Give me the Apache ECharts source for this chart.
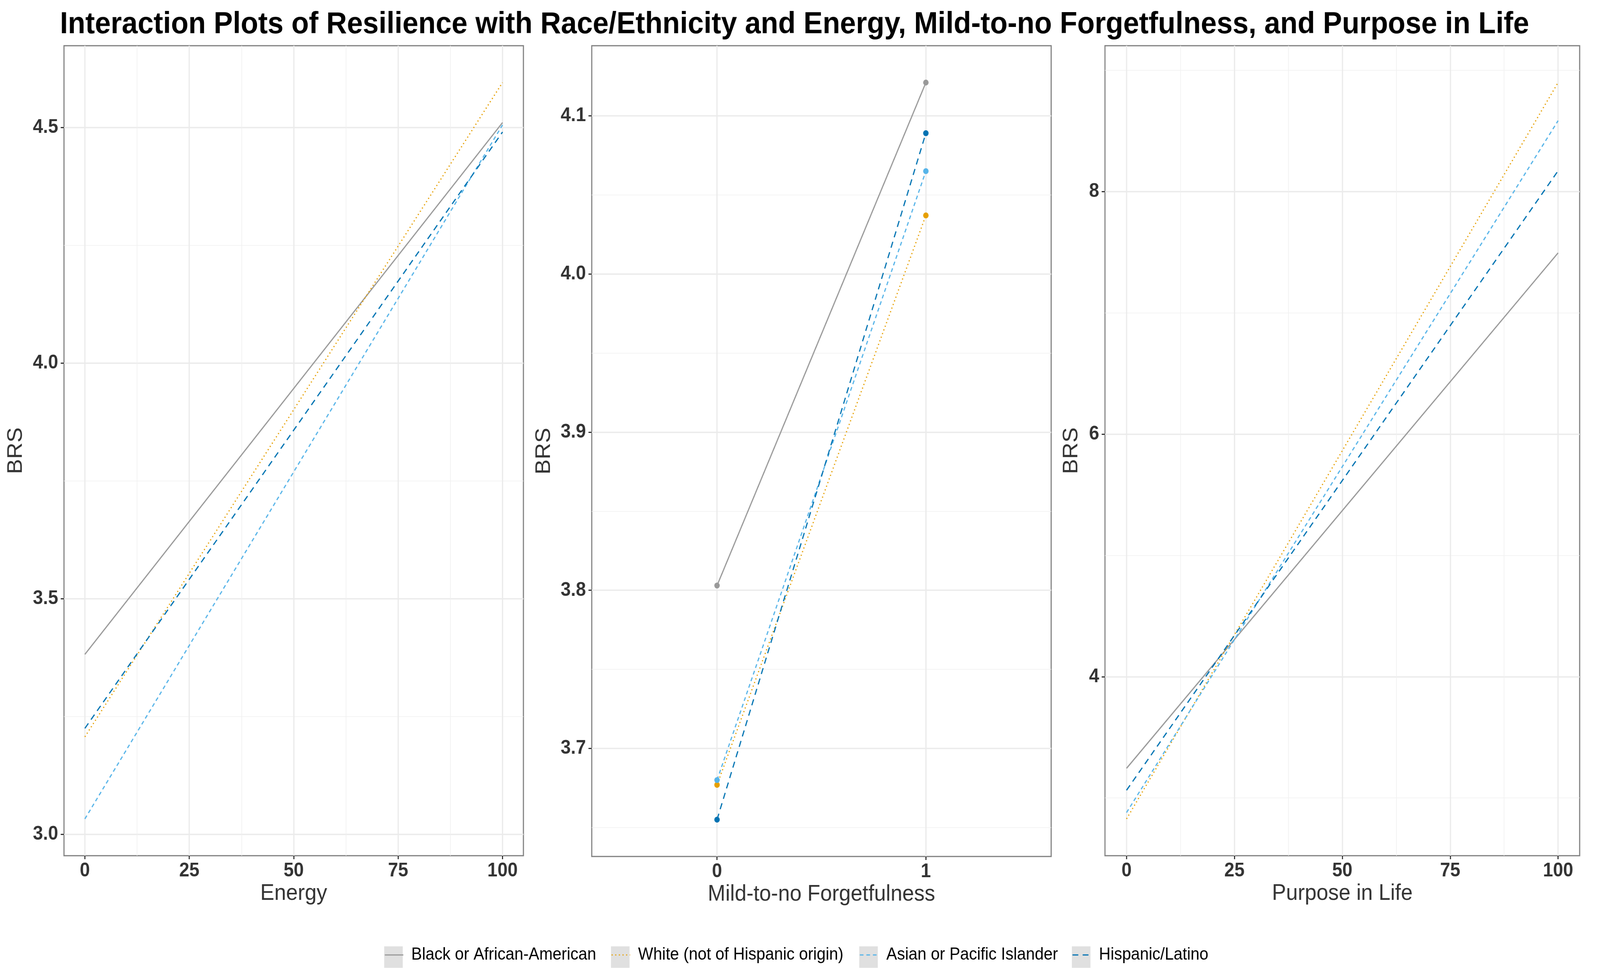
<!DOCTYPE html>
<html><head><meta charset="utf-8">
<script src="https://cdn.jsdelivr.net/npm/echarts@6/dist/echarts.min.js"></script>
<style>html,body{margin:0;padding:0;background:#fff;overflow:hidden}#c{width:4402px;height:2503px;transform-origin:0 0}</style>
</head><body><div id="c"></div>
<script>
// ---------- data ----------
const groups = ['Black or African-American', 'White (not of Hispanic origin)', 'Asian or Pacific Islander', 'Hispanic/Latino'];

const energyLevels = [0, 100];
const energyBlack = [3.382, 4.510];
const energyWhite = [3.207, 4.595];
const energyAsian = [3.033, 4.505];
const energyHispanic = [3.225, 4.490];

const forgetLevels = [0, 1];
const forgetBlack = [3.803, 4.121];
const forgetWhite = [3.677, 4.037];
const forgetAsian = [3.680, 4.065];
const forgetHispanic = [3.655, 4.089];

const purposeLevels = [0, 100];
const purposeBlack = [3.244, 7.495];
const purposeWhite = [2.827, 8.900];
const purposeAsian = [2.879, 8.585];
const purposeHispanic = [3.063, 8.172];

const xTicks100 = [0, 25, 50, 75, 100];
const xMinor100 = [12.5, 37.5, 62.5, 87.5];
const xTicksBinary = [0, 1];
const energyYTicks = [3.0, 3.5, 4.0, 4.5];
const energyYMinor = [3.25, 3.75, 4.25];
const forgetYTicks = [3.7, 3.8, 3.9, 4.0, 4.1];
const forgetYMinor = [3.65, 3.75, 3.85, 3.95, 4.05];
const purposeYTicks = [4, 6, 8];
const purposeYMinor = [3, 5, 7, 9];

// ---------- styling ----------
const W = 4402, H = 2503;
// the browser viewport may be narrower than the requested size: fit the chart into it
const el = document.getElementById('c');
const sx = Math.min(1, window.innerWidth / W), sy = Math.min(1, window.innerHeight / H);
if (sx < 1 || sy < 1) el.style.transform = 'scale(' + sx + ',' + sy + ')';

const FONT = '"Liberation Sans", Arial, Helvetica, sans-serif';
const colors = ['#999999', '#E69F00', '#56B4E9', '#0072B2'];
const dashes = ['solid', [3, 7], [10, 8], [16, 12]];
const grids = [
  {left: 176, top: 117, width: 1264, height: 2073},
  {left: 1628, top: 117, width: 1264, height: 2075},
  {left: 3040, top: 117, width: 1306, height: 2073}
];
const legendLefts = [1057, 1681, 2364, 2949];
const LEG_TOP = 2422, LEG_W = 51, LEG_H = 55;

const panels = [
  {x: energyLevels, ys: [energyBlack, energyWhite, energyAsian, energyHispanic], discrete: false,
   xt: xTicks100, xm: xMinor100, yt: energyYTicks, ym: energyYMinor, fmt: v => v.toFixed(1),
   xname: 'Energy', yGap: 103, points: false},
  {x: forgetLevels, ys: [forgetBlack, forgetWhite, forgetAsian, forgetHispanic], discrete: true,
   xt: xTicksBinary, xm: [], yt: forgetYTicks, ym: forgetYMinor, fmt: v => v.toFixed(1),
   xname: 'Mild-to-no Forgetfulness', yGap: 102, points: true},
  {x: purposeLevels, ys: [purposeBlack, purposeWhite, purposeAsian, purposeHispanic], discrete: false,
   xt: xTicks100, xm: xMinor100, yt: purposeYTicks, ym: purposeYMinor, fmt: v => String(v),
   xname: 'Purpose in Life', yGap: 63, points: false}
];

function rangeOf(vals, discrete) {
  const mn = Math.min(...vals), mx = Math.max(...vals);
  if (discrete) return [mn - 0.6, mx + 0.6];
  const r = mx - mn;
  return [mn - 0.05 * r, mx + 0.05 * r];
}

const xAxis = [], yAxis = [], series = [];
panels.forEach((p, pi) => {
  const xr = rangeOf(p.x, p.discrete);
  const yr = rangeOf([].concat(...p.ys), false);
  const tickStyle = {show: true, length: 9, lineStyle: {color: '#333333', width: 3}};
  const labelStyle = {fontSize: 50, fontWeight: 'bold', color: '#333333', fontFamily: FONT};
  xAxis.push({
    type: 'value', gridIndex: pi, min: xr[0], max: xr[1], position: 'bottom',
    axisLine: {show: false, onZero: false},
    axisTick: Object.assign({customValues: p.xt}, tickStyle),
    axisLabel: Object.assign({customValues: p.xt, margin: 14, formatter: v => String(v)}, labelStyle),
    splitLine: {show: true, lineStyle: {color: '#ebebeb', width: 3.4}},
    name: p.xname, nameLocation: 'middle', nameGap: 68, nameMoveOverlap: false,
    nameTextStyle: {fontSize: 58, color: '#333333', fontFamily: FONT}
  });
  xAxis.push({
    type: 'value', gridIndex: pi, min: xr[0], max: xr[1], position: 'top',
    axisLine: {show: false, onZero: false}, axisTick: {show: false, customValues: p.xm},
    axisLabel: {show: false}, splitLine: {show: p.xm.length > 0, lineStyle: {color: '#f0f0f0', width: 1.7}}
  });
  yAxis.push({
    type: 'value', gridIndex: pi, min: yr[0], max: yr[1], position: 'left',
    axisLine: {show: false, onZero: false},
    axisTick: Object.assign({customValues: p.yt}, tickStyle),
    axisLabel: Object.assign({customValues: p.yt, margin: 16, formatter: p.fmt}, labelStyle),
    splitLine: {show: true, lineStyle: {color: '#ebebeb', width: 3.4}},
    name: 'BRS', nameLocation: 'middle', nameGap: p.yGap, nameRotate: 90, nameMoveOverlap: false,
    nameTextStyle: {fontSize: 58, color: '#333333', fontFamily: FONT}
  });
  yAxis.push({
    type: 'value', gridIndex: pi, min: yr[0], max: yr[1], position: 'right',
    axisLine: {show: false, onZero: false}, axisTick: {show: false, customValues: p.ym},
    axisLabel: {show: false}, splitLine: {show: true, lineStyle: {color: '#f0f0f0', width: 1.7}}
  });
  p.ys.forEach((vals, gi) => {
    series.push({
      type: 'line', name: groups[gi], xAxisIndex: pi * 2, yAxisIndex: pi * 2,
      data: p.x.map((xv, k) => [xv, vals[k]]),
      symbol: p.points ? 'circle' : 'none', symbolSize: 15, showSymbol: p.points,
      lineStyle: {color: colors[gi], width: 3.2, type: dashes[gi], cap: 'butt'},
      itemStyle: {color: colors[gi]},
      z: 3 + gi, silent: true, clip: false, animation: false
    });
  });
});

const legend = groups.map((g, i) => ({
  data: [g], left: legendLefts[i], top: LEG_TOP, orient: 'horizontal', padding: 0,
  itemWidth: LEG_W, itemHeight: LEG_H, selectedMode: false, z: 10,
  itemStyle: {opacity: 0},
  lineStyle: {width: 3.2},
  textStyle: {fontSize: 44, color: '#000000', fontFamily: FONT, padding: [0, 0, 0, 17]}
}));

const graphic = legendLefts.map(x => ({
  type: 'rect', z: 0, silent: true,
  shape: {x: x, y: LEG_TOP, width: LEG_W, height: LEG_H},
  style: {fill: '#e0e0e0'}
}));

const chart = echarts.init(el, null, {renderer: 'canvas', width: W, height: H});
chart.setOption({
  animation: false,
  backgroundColor: '#ffffff',
  title: {
    text: 'Interaction Plots of Resilience with Race/Ethnicity and Energy, Mild-to-no Forgetfulness, and Purpose in Life',
    left: 165, top: 24, padding: 0,
    textStyle: {fontSize: 78.5, fontWeight: 'bold', color: '#000000', fontFamily: FONT}
  },
  grid: grids.map(g => Object.assign({show: true, borderColor: '#7f7f7f', borderWidth: 3,
    backgroundColor: 'transparent', outerBoundsMode: 'none', containLabel: false}, g)),
  xAxis, yAxis, series, legend, graphic
});
</script></body></html>
